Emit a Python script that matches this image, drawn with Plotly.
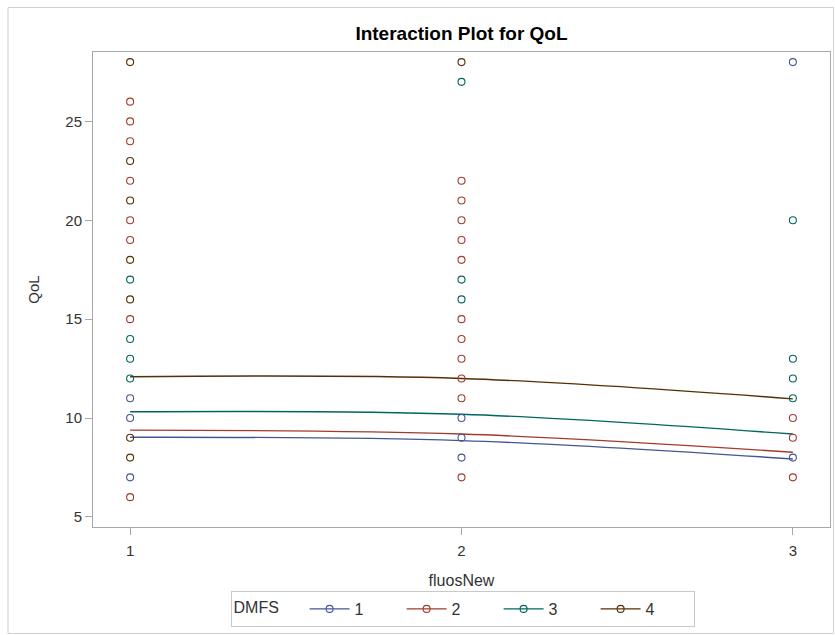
import plotly.graph_objects as go

# ---- data ----
groups = ["1", "2", "3", "4"]
colors = ["#445694", "#A23A2E", "#01665E", "#543005"]

# observed points (fluosNew, QoL) per DMFS group
g1_x = [1, 1, 1, 2, 2, 2, 3, 3]
g1_y = [11, 10, 7, 10, 9, 8, 28, 8]
g2_x = [1, 1, 1, 1, 1, 1, 1, 1, 2, 2, 2, 2, 2, 2, 2, 2, 2, 2, 2, 3, 3, 3]
g2_y = [26, 25, 24, 22, 20, 19, 15, 6, 22, 21, 20, 19, 18, 15, 14, 13, 12, 11, 7, 10, 9, 7]
g3_x = [1, 1, 1, 1, 2, 2, 2, 3, 3, 3, 3]
g3_y = [17, 14, 13, 12, 27, 17, 16, 20, 13, 12, 11]
g4_x = [1, 1, 1, 1, 1, 1, 1, 2]
g4_y = [28, 23, 21, 18, 16, 9, 8, 28]

# fitted (model) values at fluosNew = 1, 2, 3
fit_x = [1, 2, 3]
fit1 = [9.03, 8.86, 7.93]
fit2 = [9.39, 9.19, 8.27]
fit3 = [10.32, 10.19, 9.19]
fit4 = [12.09, 12.00, 10.97]

xtick_vals = [1, 2, 3]
ytick_vals = [5, 10, 15, 20, 25]

obs_x = [g1_x, g2_x, g3_x, g4_x]
obs_y = [g1_y, g2_y, g3_y, g4_y]
fits = [fit1, fit2, fit3, fit4]

FONT = "Liberation Sans, Arial, sans-serif"

fig = go.Figure()

for name, col, fy in zip(groups, colors, fits):
    fig.add_trace(go.Scatter(
        x=fit_x, y=fy, mode="lines", line=dict(color=col, width=1.4, shape="spline"),
        showlegend=False, legendgroup=name, hoverinfo="skip"))

for name, col, xs, ys in zip(groups, colors, obs_x, obs_y):
    # break points with gaps so only markers are drawn, while legend shows line+marker
    gx, gy = [], []
    for a, b in zip(xs, ys):
        gx += [a, None]
        gy += [b, None]
    fig.add_trace(go.Scatter(
        x=gx, y=gy, mode="lines+markers", name=name, legendgroup=name,
        connectgaps=False,
        line=dict(color=col, width=1.3),
        marker=dict(symbol="circle-open", size=7, color=col, line=dict(width=1.1, color=col))))

L, R, T, B = 93, 5, 52, 108
W, H = 835, 635
pw, ph = W - L - R, H - T - B

def px_x(p):
    return (p - L) / pw

def px_y(p):
    return (H - B - p) / ph

fig.update_layout(
    width=W, height=H,
    margin=dict(l=L, r=R, t=T, b=B),
    paper_bgcolor="white", plot_bgcolor="white",
    font=dict(family=FONT, color="#333333", size=15),
    title=dict(text="<b>Interaction Plot for QoL</b>", x=px_x(461.5), xref="paper",
               xanchor="center", y=1 - 33 / H, yanchor="middle",
               font=dict(size=19, color="#000000", family=FONT)),
    xaxis=dict(range=[0.888, 3.112], tickvals=xtick_vals, ticktext=[str(v) for v in xtick_vals],
               showgrid=False, zeroline=False, showline=True, mirror=True,
               linecolor="#a8a8a8", linewidth=1, ticks="outside", ticklen=7,
               tickcolor="#a8a8a8", tickfont=dict(size=15, color="#333333"),
               ticklabelstandoff=3,
               title=dict(text="fluosNew", font=dict(size=16, color="#333333"), standoff=16)),
    yaxis=dict(range=[4.49, 28.51], tickvals=ytick_vals,
               showgrid=False, zeroline=False, showline=True, mirror=True,
               linecolor="#a8a8a8", linewidth=1, ticks="outside", ticklen=7,
               tickcolor="#a8a8a8", tickfont=dict(size=15, color="#333333"),
               title=dict(text="QoL", font=dict(size=15, color="#333333"), standoff=22)),
    legend=dict(orientation="h", x=px_x(462.5), xanchor="center", y=px_y(591), yanchor="top",
                bordercolor="#c8c8c8", borderwidth=1, bgcolor="white",
                font=dict(size=16, color="#333333"),
                title=dict(text="DMFS    ", font=dict(size=16, color="#333333"), side="left"),
                itemwidth=40, entrywidth=42, traceorder="normal", tracegroupgap=0),
    shapes=[dict(type="rect", xref="paper", yref="paper",
                 x0=px_x(8), x1=px_x(833.5), y0=px_y(633.5), y1=px_y(7.5),
                 line=dict(color="#cfcfcf", width=1), fillcolor="rgba(0,0,0,0)", layer="below")],
)

fig.write_html("out.html")
